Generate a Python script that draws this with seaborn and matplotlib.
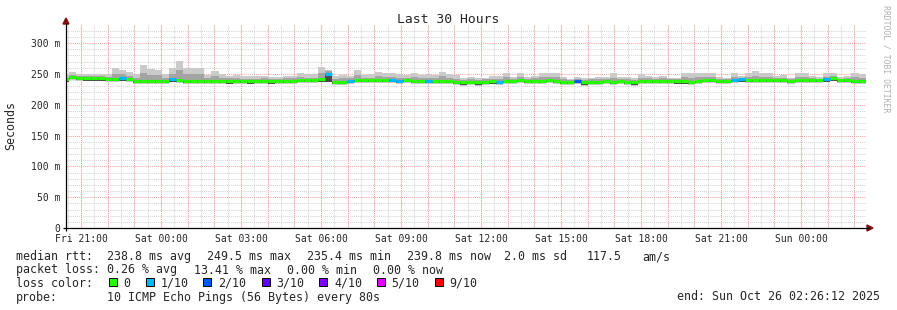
import numpy as np
import pandas as pd
import matplotlib
matplotlib.use("Agg")
import matplotlib.pyplot as plt
from matplotlib.patches import Rectangle, Polygon
from matplotlib.lines import Line2D
import seaborn as sns

# ---------------- data ----------------
median_rtt = [241,245,244,243,243,243,242,242,243,242,
              239,239,239,239,239,241,240,239,239,239,
              239,239,239,238,239,239,238,239,239,238,
              239,239,239,240,240,240,241,250,237,237,
              239,240,240,240,240,240,240,239,240,239,
              239,239,239,239,239,237,236,237,236,237,
              238,237,239,239,240,239,239,239,240,239,
              237,237,239,236,237,237,239,237,239,237,
              236,239,239,239,239,239,238,238,237,239,
              240,240,239,239,240,241,240,240,240,240,
              240,240,239,240,240,240,240,241,243,240,
              240,239,239]
loss_count = [0,0,0,0,0,0,0,0,1,0,
              0,0,0,0,0,1,0,0,0,0,
              0,0,0,0,0,0,0,0,0,0,
              0,0,0,0,0,0,0,1,0,0,
              1,0,0,0,0,0,1,1,0,0,
              0,1,0,0,0,0,0,0,0,0,
              0,1,0,0,0,0,0,0,0,0,
              0,0,2,0,0,0,0,0,0,0,
              0,0,0,0,0,0,0,0,0,0,
              0,0,0,0,1,1,0,0,0,0,
              0,0,0,0,0,0,0,1,0,0,
              0,0,0]
rtt_min = [236,240,239,238,238,238,237,237,238,237,
           234,234,234,234,234,236,235,234,234,234,
           234,234,234,233,234,234,233,234,234,233,
           234,234,234,235,235,235,236,236,232,232,
           234,235,235,235,235,235,235,234,235,234,
           234,234,234,234,234,232,231,232,231,232,
           233,232,234,234,235,234,234,234,235,234,
           232,232,234,231,232,232,234,232,234,232,
           231,234,234,234,234,234,233,233,232,234,
           235,235,234,234,235,236,235,235,235,235,
           235,235,234,235,235,235,235,236,238,235,
           235,234,234]
rtt_low = [237,241,240,239,239,239,238,238,239,238,
           235,235,235,235,235,237,236,235,235,235,
           235,235,235,234,235,235,234,235,235,234,
           235,235,235,236,236,236,237,237,233,233,
           235,236,236,236,236,236,236,235,236,235,
           235,235,235,235,235,233,232,233,232,233,
           234,233,235,235,236,235,235,235,236,235,
           233,233,235,232,233,233,235,233,235,233,
           232,235,235,235,235,235,234,234,233,235,
           236,236,235,235,236,237,236,236,236,236,
           236,236,235,236,236,236,236,237,239,236,
           236,235,235]
rtt_p9 = [244,248,247,246,246,246,245,250,249,247,
          244,252,248,248,244,250,256,249,249,249,
          243,246,244,243,243,242,242,242,243,242,
          242,243,243,245,244,244,251,254,242,243,
          243,248,244,244,246,245,245,244,244,245,
          243,244,243,246,244,242,240,241,240,241,
          242,242,245,242,245,242,243,245,245,245,
          241,240,242,240,241,241,242,244,242,241,
          240,244,243,242,243,242,241,245,244,245,
          245,245,242,242,245,244,245,247,245,245,
          243,244,242,245,245,243,242,245,247,242,
          243,245,244]
rtt_max = [248,253,250,250,250,249,249,260,256,253,
           249,265,258,257,250,260,271,259,259,259,
           248,254,249,247,248,246,247,246,247,245,
           245,246,246,251,250,250,261,256,246,248,
           247,256,248,249,253,251,251,249,248,251,
           248,249,248,253,249,248,243,245,244,244,
           246,246,251,245,251,245,247,251,251,251,
           245,242,245,244,244,245,245,251,245,245,
           244,250,247,245,247,244,243,251,251,251,
           251,251,245,244,251,247,251,255,251,251,
           247,248,244,251,251,247,245,251,252,245,
           247,251,249]

x_tick_labels = ['Fri 21:00', 'Sat 00:00', 'Sat 03:00', 'Sat 06:00', 'Sat 09:00',
                 'Sat 12:00', 'Sat 15:00', 'Sat 18:00', 'Sat 21:00', 'Sun 00:00']
y_tick_values = [0, 50, 100, 150, 200, 250, 300]
y_tick_labels = ['0', '50 m', '100 m', '150 m', '200 m', '250 m', '300 m']
loss_labels = ['0', '1/10', '2/10', '3/10', '4/10', '5/10', '9/10']
loss_colors = ['#26ff00', '#00b8ff', '#0059ff', '#5e00ff', '#7e00ff', '#dd00ff', '#ff0000']

# ---------------- figure geometry ----------------
W, H = 897, 310
PL, PR, PT, PB = 66, 866, 25, 228
sns.set_style("white")
plt.rcParams['font.family'] = ['DejaVu Sans Mono', 'DejaVu Sans']
plt.rcParams['lines.solid_capstyle'] = 'butt'

fig = plt.figure(figsize=(W / 100, H / 100), dpi=100)
fig.patch.set_facecolor('white')
ax = fig.add_axes([PL / W, 1 - PB / H, (PR - PL) / W, (PB - PT) / H])
ax.set_facecolor('white')

span_h = 30.0
start_clock = 20 + 26 / 60 + 12 / 3600  # Fri 20:26:12
ymax = (PB - PT) / ((PB - 43) / 300.0)
ax.set_xlim(0, span_h)
ax.set_ylim(0, ymax)

def fx(px):
    return px / W

def fy(py):
    return 1 - py / H

# ---------------- grid ----------------
dot = (0, (1, 1))
for v in range(10, int(ymax) + 1, 10):
    if v % 50:
        ax.axhline(v, color='#d4d4d4', lw=0.75, ls=dot, zorder=0)
for v in range(50, int(ymax) + 1, 50):
    ax.axhline(v, color='#f4a0a0', lw=0.75, ls=dot, zorder=0.5)

first_half = np.ceil(start_clock * 2) / 2
minor_t = np.arange(first_half, start_clock + span_h, 0.5) - start_clock
first_hour = np.ceil(start_clock)
hour_t = np.arange(first_hour, start_clock + span_h, 1.0) - start_clock
for t in minor_t:
    ax.axvline(t, color='#d4d4d4', lw=0.75, ls=dot, zorder=0)
for t in hour_t:
    ax.axvline(t, color='#f4a0a0', lw=0.75, ls=dot, zorder=0.5)
label_t = (21 + 3 * np.arange(len(x_tick_labels))) - start_clock

# ---------------- smoke ----------------
n = len(median_rtt)
bw = 16 / 60
edges = 0.12 + (np.arange(n + 1) - 1) * bw

def ext(a):
    a = np.asarray(a, float)
    return np.append(a, a[-1])

ax.fill_between(edges, ext(rtt_min), ext(rtt_max), step='post', color='#cacaca', lw=0, zorder=2)
ax.fill_between(edges, ext(rtt_low), ext(rtt_p9), step='post', color='#a4a4a4', lw=0, zorder=3)
ax.fill_between(edges, ext(rtt_low), ext(median_rtt), step='post', color='#4a4a4a', lw=0, zorder=4)

# ---------------- median coloured by loss ----------------
def loss_idx(c):
    if c <= 4:
        return c
    if c <= 8:
        return 5
    return 6

rows = []
for i in range(n):
    lab = loss_labels[loss_idx(loss_count[i])]
    rows.append((edges[i], median_rtt[i], i, lab))
    rows.append((edges[i + 1], median_rtt[i], i, lab))
df = pd.DataFrame(rows, columns=['t', 'rtt', 'seg', 'loss'])
sns.lineplot(data=df, x='t', y='rtt', hue='loss', units='seg', estimator=None,
             palette=dict(zip(loss_labels, loss_colors)), hue_order=loss_labels,
             linewidth=2.3, legend=False, sort=False, ax=ax, zorder=5)

# ---------------- axes ----------------
for s in ax.spines.values():
    s.set_visible(False)
ax.set_xlabel('')
ax.set_ylabel('')
ax.set_xticks(label_t)
ax.set_xticklabels(x_tick_labels, fontsize=7.05)
ax.set_yticks(y_tick_values)
ax.set_yticklabels(y_tick_labels, fontsize=7.05)
ax.tick_params(axis='both', length=2, width=0.7, color='black', direction='inout', pad=3)
ax.set_xticks(minor_t, minor=True)
ax.set_yticks(np.arange(10, ymax, 10), minor=True)
ax.tick_params(axis='both', which='minor', length=1.5, width=0.7, color='black', direction='inout')

# axis lines with arrows
fig.add_artist(Line2D([fx(PL), fx(PL)], [fy(PB + 3), fy(PT - 2)], color='black', lw=0.9))
fig.add_artist(Line2D([fx(PL - 3), fx(PR + 3)], [fy(PB), fy(PB)], color='black', lw=0.9))
fig.add_artist(Polygon([[fx(PL - 3), fy(PT - 1)], [fx(PL + 3), fy(PT - 1)], [fx(PL), fy(PT - 7)]],
                       closed=True, color='#7f1010', transform=fig.transFigure))
fig.add_artist(Polygon([[fx(PR + 1), fy(PB - 3)], [fx(PR + 1), fy(PB + 3)], [fx(PR + 7), fy(PB)]],
                       closed=True, color='#7f1010', transform=fig.transFigure))

# ---------------- texts ----------------
fig.text(fx(448), fy(19.5), 'Last 30 Hours', ha='center', va='center', fontsize=9.4)
fig.text(fx(11), fy(126), 'Seconds', ha='center', va='center', rotation=90, fontsize=8.4)
fig.text(fx(886), fy(5), 'RRDTOOL / TOBI OETIKER', ha='center', va='top', rotation=270,
         fontsize=5.9, color='#b0b0b0')

fs = 8.37
row1 = [(16, 'median rtt:'), (107.3, '238.8 ms avg'), (207.3, '249.5 ms max'),
        (307.3, '235.4 ms min'), (407.3, '239.8 ms now'), (504, '2.0 ms sd'),
        (586.7, '117.5'), (642.7, 'am/s')]
row2 = [(16, 'packet loss:'), (107.3, '0.26 % avg'), (194, '13.41 % max'),
        (286.7, '0.00 % min'), (372.7, '0.00 % now')]
row4 = [(16, 'probe:'), (107.3, '10 ICMP Echo Pings (56 Bytes) every 80s')]
for (x, s) in row1:
    fig.text(fx(x), fy(260), s, ha='left', va='baseline', fontsize=fs)
for (x, s) in row2:
    fig.text(fx(x), fy(273.5), s, ha='left', va='baseline', fontsize=fs)
fig.text(fx(16), fy(287), 'loss color:', ha='left', va='baseline', fontsize=fs)
box_x = [108.7, 146, 203.3, 262, 319.3, 376.7, 435]
for bx, lab, col in zip(box_x, loss_labels, loss_colors):
    fig.add_artist(Rectangle((fx(bx), fy(286)), 8 / W, 8 / H, facecolor=col,
                             edgecolor='black', lw=0.7, transform=fig.transFigure))
    fig.text(fx(bx + 14.7), fy(287), lab, ha='left', va='baseline', fontsize=fs)
for (x, s) in row4:
    fig.text(fx(x), fy(300.5), s, ha='left', va='baseline', fontsize=fs)
fig.text(fx(880), fy(300.5), 'end: Sun Oct 26 02:26:12 2025', ha='right', va='baseline', fontsize=fs)

fig.savefig('out.png', dpi=100, facecolor='white')
